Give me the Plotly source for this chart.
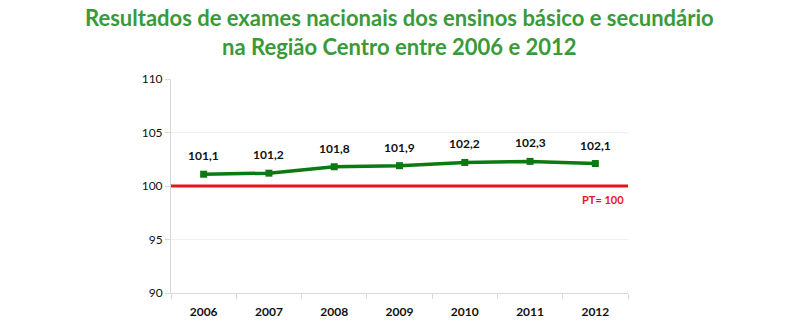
import plotly.graph_objects as go

years = ["2006", "2007", "2008", "2009", "2010", "2011", "2012"]
values = [101.1, 101.2, 101.8, 101.9, 102.2, 102.3, 102.1]
reference_value = 100
y_ticks = [90, 95, 100, 105, 110]

labels = [f"{v:.1f}".replace(".", ",") for v in values]
FONT = "Lato, Open Sans, sans-serif"

fig = go.Figure()

fig.add_trace(go.Scatter(
    x=years, y=values,
    mode="lines+markers",
    line=dict(color="#0b7a12", width=3.5),
    marker=dict(symbol="square", size=7, color="#0b7a12"),
    hoverinfo="skip",
))

# value labels above each point (category axis: position by index)
for i, (v, lab) in enumerate(zip(values, labels)):
    fig.add_annotation(x=i, y=v, text=f"<b>{lab}</b>", showarrow=False,
                       yanchor="bottom", yshift=9,
                       font=dict(family=FONT, size=12, color="#111111"))

# national reference line (PT = 100)
fig.add_shape(type="line", xref="paper", x0=0, x1=1, yref="y",
              y0=reference_value, y1=reference_value,
              line=dict(color="#e3161b", width=3))
fig.add_annotation(xref="paper", x=0.995, yref="y", y=reference_value,
                   text="<b>PT= 100</b>", showarrow=False,
                   xanchor="right", yanchor="top", yshift=-5,
                   font=dict(family=FONT, size=11, color="#e3161b"))

# two-line title
fig.add_annotation(xref="paper", x=0.5, yref="paper", y=1.36,
                   xanchor="center", yanchor="top", showarrow=False,
                   text="<b>Resultados de exames nacionais dos ensinos básico e secundário"
                        "<br>na Região Centro entre 2006 e 2012</b>",
                   font=dict(family=FONT, size=22, color="#3a9a3a"))

fig.update_layout(
    width=800, height=327,
    margin=dict(l=171, r=172, t=79, b=34),
    paper_bgcolor="white", plot_bgcolor="white",
    showlegend=False,
)

fig.update_xaxes(
    type="category", tickson="boundaries", ticks="outside", ticklen=5,
    range=[-0.5, 6.5], tickangle=0, automargin=False,
    tickcolor="#d9d9d9", showline=True, linecolor="#d9d9d9", linewidth=1,
    showgrid=False, ticklabelstandoff=8,
    tickfont=dict(family=FONT, size=12, color="#111111"),
    tickprefix="<b>", ticksuffix="</b>",
)
fig.update_yaxes(
    range=[90, 110], tickvals=y_ticks, automargin=False,
    ticks="outside", ticklen=5, tickcolor="#d9d9d9",
    showline=True, linecolor="#d9d9d9", linewidth=1,
    showgrid=True, gridcolor="#efefef", zeroline=False,
    tickfont=dict(family=FONT, size=12, color="#111111"),
    tickprefix="<b>", ticksuffix="</b>",
)

fig.write_html("out.html")
